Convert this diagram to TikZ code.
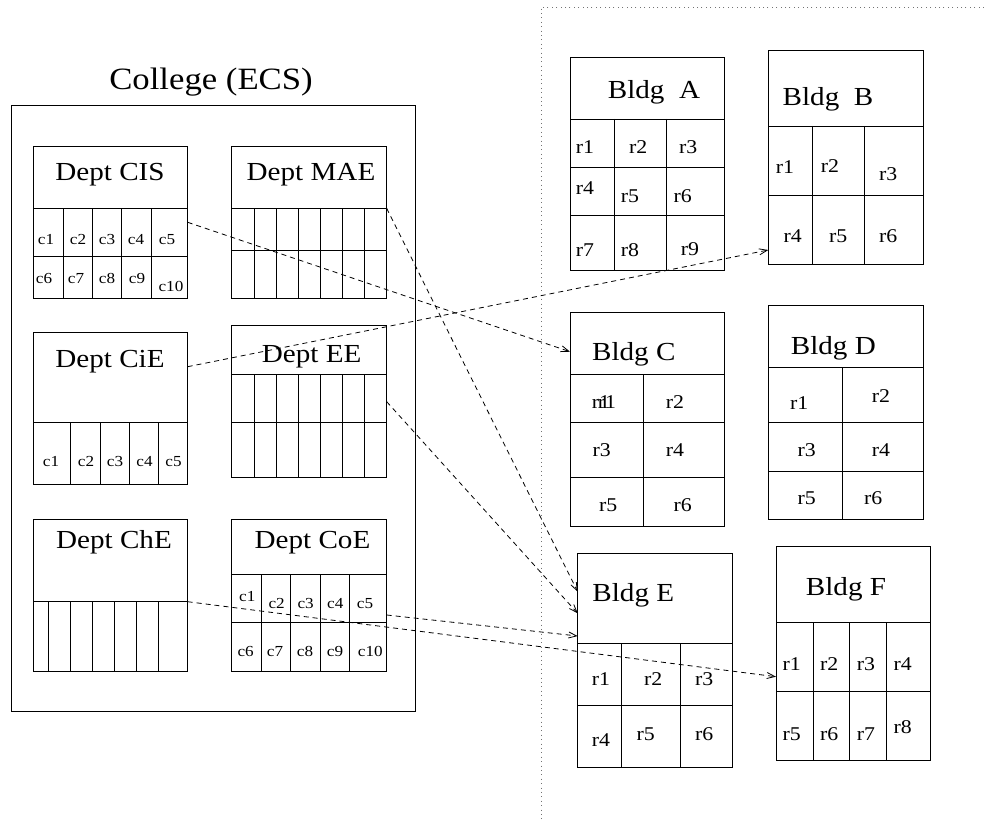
\documentclass[tikz,border=0pt]{standalone}
\usepackage{fontspec}
\setmainfont{Liberation Serif}[FakeStretch=1.12]
\usetikzlibrary{arrows.meta}
\tikzset{
  frame/.style={draw=black, line width=0.9pt},
  grid/.style={draw=black, line width=0.9pt},
  hd/.style={font=\fontsize{26}{28}\selectfont, anchor=base, inner sep=0pt},
  ttl/.style={font=\fontsize{31}{33}\selectfont, anchor=base, inner sep=0pt},
  rl/.style={font=\fontsize{19.5}{21}\selectfont, anchor=base, inner sep=0pt},
  cl/.style={font=\fontsize{15.3}{17}\selectfont, anchor=base, inner sep=0pt},
  link/.style={draw=black, line width=0.8pt, dash pattern=on 5pt off 4pt, -{Straight Barb[length=8pt,width=6pt]}},
  zone/.style={draw=black!55, line width=1pt, dash pattern=on 1pt off 3.4pt}
}
\begin{document}
\begin{tikzpicture}[x=1pt,y=-1pt]
\useasboundingbox (0,0) rectangle (984,821);
\fill[white] (0,0) rectangle (984,821);

% dotted zone
\draw[zone] (984,7.3) -- (541,7.3) -- (541,821);

% College
\node[ttl] (coltitle) at (211,89.5) {College (ECS)};
\draw[frame] (11.7,105) rectangle (415,711.7);

% Dept CIS
\draw[frame] (33.3,146.7) rectangle (187.7,298.3);
\draw[grid] (33.3,208.3) -- (187.7,208.3) (33.3,256.7) -- (187.7,256.7);
\foreach \x in {63.3,92.7,121.7,151} \draw[grid] (\x,208.3) -- (\x,298.3);
\node[hd] (cist) at (110,181) {Dept CIS};
\foreach \t/\x in {c1/46,c2/78,c3/107,c4/136,c5/167} \node[cl] (cis\t) at (\x,244) {\t};
\foreach \t/\x in {c6/44,c7/76,c8/107,c9/137} \node[cl] (cis\t) at (\x,283.5) {\t};
\node[cl] (cisc10) at (171,291) {c10};

% Dept MAE
\draw[frame] (231.7,146.7) rectangle (386.7,298.3);
\draw[grid] (231.7,208.3) -- (386.7,208.3) (231.7,250.7) -- (386.7,250.7);
\foreach \x in {254.3,276.3,298.3,320.7,342.7,364.7} \draw[grid] (\x,208.3) -- (\x,298.3);
\node[hd] (maet) at (311,181) {Dept MAE};

% Dept CiE
\draw[frame] (33.3,332.3) rectangle (187.7,484.3);
\draw[grid] (33.3,422.3) -- (187.7,422.3);
\foreach \x in {70,100,129.3,158.3} \draw[grid] (\x,422.3) -- (\x,484.3);
\node[hd] (ciet) at (110,367) {Dept CiE};
\foreach \t/\x in {c1/51,c2/86,c3/115,c4/144.5,c5/173.5} \node[cl] (cie\t) at (\x,466.7) {\t};

% Dept EE
\draw[frame] (231.7,325.7) rectangle (386.7,477.7);
\draw[grid] (231.7,374) -- (386.7,374) (231.7,422.3) -- (386.7,422.3);
\foreach \x in {254.3,276.3,298.3,320.7,342.7,364.7} \draw[grid] (\x,374) -- (\x,477.7);
\node[hd] (eet) at (311.7,362) {Dept EE};

% Dept ChE
\draw[frame] (33.3,519) rectangle (187.7,671);
\draw[grid] (33.3,601.7) -- (187.7,601.7);
\foreach \x in {48.3,70,92.3,114.3,136.3,158.3} \draw[grid] (\x,601.7) -- (\x,671);
\node[hd] (chet) at (114,548) {Dept ChE};

% Dept CoE
\draw[frame] (231.7,519) rectangle (386.7,671);
\draw[grid] (231.7,574) -- (386.7,574) (231.7,622.3) -- (386.7,622.3);
\foreach \x in {261.7,290.7,320,349.3} \draw[grid] (\x,574) -- (\x,671);
\node[hd] (coet) at (312.5,548) {Dept CoE};
\node[cl] (coec1) at (247.3,601.7) {c1};
\foreach \t/\x in {c2/276.7,c3/305.7,c4/335.3,c5/365} \node[cl] (coe\t) at (\x,608.3) {\t};
\foreach \t/\x in {c6/245.7,c7/275,c8/305,c9/335,c10/370.3} \node[cl] (coe\t) at (\x,656.7) {\t};

% Bldg A
\draw[frame] (570,57.3) rectangle (724.3,270.7);
\draw[grid] (570,119) -- (724.3,119) (570,167.3) -- (724.3,167.3) (570,215.7) -- (724.3,215.7);
\foreach \x in {614.3,666} \draw[grid] (\x,119) -- (\x,270.7);
\node[hd] (bat) at (654,99) {Bldg\ \ A};
\foreach \t/\x/\y in {r1/585/154,r2/638.3/154,r3/688.3/154,r4/585/194.3,r5/630/202.3,r6/682.7/202.3,r7/585/256,r8/630/256,r9/690/255.3}
  \node[rl] (ba\t) at (\x,\y) {\t};

% Bldg B
\draw[frame] (768.3,50) rectangle (923.3,264);
\draw[grid] (768.3,126) -- (923.3,126) (768.3,195) -- (923.3,195);
\foreach \x in {812.7,864.3} \draw[grid] (\x,126) -- (\x,264);
\node[hd] (bbt) at (828,105.5) {Bldg\ \ B};
\foreach \t/\x/\y in {r1/785/174,r2/830/172.3,r3/888.3/180.7,r4/792.7/242.3,r5/838.3/242.3,r6/888.3/242.3}
  \node[rl] (bb\t) at (\x,\y) {\t};

% Bldg C
\draw[frame] (570,312.3) rectangle (724.3,526);
\draw[grid] (570,374.3) -- (724.3,374.3) (570,422.7) -- (724.3,422.7) (570,477.7) -- (724.3,477.7);
\draw[grid] (643.7,374.3) -- (643.7,526);
\node[hd] (bct) at (633.8,360) {Bldg C};
\node[rl] (bcr1) at (604,408.3) {\rlap{r1}\hspace{6pt}r1};
\foreach \t/\x/\y in {r2/675/408.3,r3/601.7/456.7,r4/675/456.7,r5/608.3/511.7,r6/682.7/511.7}
  \node[rl] (bc\t) at (\x,\y) {\t};

% Bldg D
\draw[frame] (768.3,305.7) rectangle (923.3,519);
\draw[grid] (768.3,367.3) -- (923.3,367.3) (768.3,422.7) -- (923.3,422.7) (768.3,471) -- (923.3,471);
\draw[grid] (842.3,367.3) -- (842.3,519);
\node[hd] (bdt) at (833.3,354) {Bldg D};
\foreach \t/\x/\y in {r1/799.3/409.3,r2/881/402.7,r3/806.7/456.7,r4/881/456.7,r5/806.7/504,r6/873.3/504}
  \node[rl] (bd\t) at (\x,\y) {\t};

% Bldg E
\draw[frame] (577.7,553.3) rectangle (732,767.3);
\draw[grid] (577.7,643.3) -- (732,643.3) (577.7,705) -- (732,705);
\foreach \x in {621.7,680.7} \draw[grid] (\x,643.3) -- (\x,767.3);
\node[hd] (bet) at (633.3,601) {Bldg E};
\foreach \t/\x/\y in {r1/601/685,r2/653.3/685,r3/704.3/685,r4/601/746.7,r5/645.7/740,r6/704.3/740}
  \node[rl] (be\t) at (\x,\y) {\t};

% Bldg F
\draw[frame] (776,546.7) rectangle (930.3,760);
\draw[grid] (776,622.3) -- (930.3,622.3) (776,691.7) -- (930.3,691.7);
\foreach \x in {813,849.7,886.3} \draw[grid] (\x,622.3) -- (\x,760);
\node[hd] (bft) at (846,595) {Bldg F};
\foreach \t/\x/\y in {r1/791.7/670.7,r2/829.3/670.7,r3/866/670.7,r4/902.7/670.7,r5/791.7/740.7,r6/829.3/740.7,r7/866/740.7,r8/902.7/733.3}
  \node[rl] (bf\t) at (\x,\y) {\t};

% connector end points
\coordinate (cisOut) at (187.7,222.3);
\coordinate (maeOut) at (386.7,208.3);
\coordinate (cieOut) at (187.7,366.7);
\coordinate (eeOut) at (386.7,401.7);
\coordinate (cheOut) at (187.7,601.7);
\coordinate (coeOut) at (386.7,615);
\coordinate (cIn) at (570,351.7);
\coordinate (bIn) at (768.3,250);
\coordinate (eIn1) at (577.7,591.7);
\coordinate (eIn2) at (577.7,613.3);
\coordinate (eIn3) at (577.7,636);
\coordinate (fIn) at (776,676.7);

\draw[link] (cisOut) -- (cIn);
\draw[link] (maeOut) -- (eIn1);
\draw[link] (cieOut) -- (bIn);
\draw[link] (eeOut) -- (eIn2);
\draw[link] (cheOut) -- (fIn);
\draw[link] (coeOut) -- (eIn3);
\end{tikzpicture}
\end{document}
